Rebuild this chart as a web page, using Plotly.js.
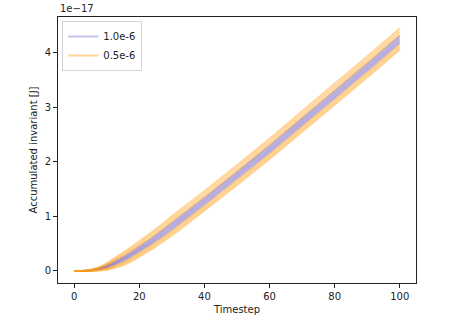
<!DOCTYPE html>
<html>
<head>
<meta charset="utf-8">
<script src="https://cdn.plot.ly/plotly-3.0.1.min.js"></script>
<style>
  html, body { margin: 0; padding: 0; background: #fff; }
  #plot { width: 462px; height: 321px; }
</style>
</head>
<body>
<div id="plot"></div>
<script>
// timesteps sampled along the curves; values in units of 1e-17 J
const timesteps = [0, 2, 4, 6, 8, 10, 13, 16, 20, 25, 30, 40, 50, 60, 70, 80, 90, 100];

// step 1.0e-6 runs
const run1a = [0, 0, 0.006, 0.026, 0.057, 0.101, 0.193, 0.292, 0.448, 0.654, 0.88, 1.34, 1.812, 2.293, 2.794, 3.295, 3.796, 4.306];
const run1b = [0, 0, 0.006, 0.023, 0.051, 0.091, 0.177, 0.271, 0.424, 0.627, 0.85, 1.31, 1.781, 2.262, 2.762, 3.263, 3.763, 4.273];
const run1c = [0, 0, 0.005, 0.020, 0.045, 0.080, 0.160, 0.250, 0.400, 0.600, 0.82, 1.28, 1.750, 2.230, 2.730, 3.230, 3.730, 4.240];
const run1d = [0, 0, 0.004, 0.017, 0.039, 0.070, 0.144, 0.229, 0.376, 0.573, 0.79, 1.25, 1.719, 2.199, 2.698, 3.197, 3.697, 4.207];
const run1e = [0, 0, 0.004, 0.014, 0.033, 0.059, 0.127, 0.208, 0.352, 0.546, 0.76, 1.22, 1.688, 2.167, 2.666, 3.165, 3.664, 4.174];

// step 0.5e-6 runs
const run05a = [0, 0, 0.009, 0.038, 0.081, 0.143, 0.259, 0.376, 0.544, 0.762, 1.00, 1.46, 1.935, 2.419, 2.923, 3.426, 3.928, 4.438];
const run05b = [0, 0, 0.008, 0.033, 0.071, 0.126, 0.232, 0.341, 0.504, 0.717, 0.95, 1.41, 1.884, 2.367, 2.869, 3.372, 3.873, 4.383];
const run05c = [0, 0, 0.007, 0.028, 0.061, 0.108, 0.204, 0.306, 0.464, 0.672, 0.90, 1.36, 1.832, 2.314, 2.816, 3.317, 3.818, 4.328];
const run05d = [0, 0, 0.003, 0.011, 0.027, 0.049, 0.111, 0.187, 0.328, 0.519, 0.73, 1.19, 1.657, 2.136, 2.634, 3.132, 3.631, 4.141];
const run05e = [0, 0, 0.002, 0.007, 0.019, 0.035, 0.089, 0.159, 0.296, 0.483, 0.69, 1.15, 1.616, 2.094, 2.591, 3.088, 3.587, 4.097];
const run05f = [0, 0, 0.002, 0.003, 0.011, 0.021, 0.067, 0.131, 0.264, 0.447, 0.65, 1.11, 1.575, 2.052, 2.548, 3.045, 3.543, 4.053];

const groups = [
  { name: "1.0e-6", color: "rgba(125,105,195,0.42)", runs: [run1a, run1b, run1c, run1d, run1e] },
  { name: "0.5e-6", color: "rgba(255,160,20,0.45)", runs: [run05a, run05b, run05c, run05d, run05e, run05f] },
];

const traces = [];
for (const g of groups) {
  g.runs.forEach((ys, i) => {
    traces.push({
      x: timesteps,
      y: ys,
      type: "scatter",
      mode: "lines",
      name: g.name,
      legendgroup: g.name,
      showlegend: i === 0,
      line: { color: g.color, width: 2, shape: "spline", smoothing: 0.6 },
      hoverinfo: "skip",
    });
  });
}

const axisCommon = {
  showline: true,
  mirror: true,
  linecolor: "#222",
  linewidth: 1,
  ticks: "outside",
  ticklen: 4,
  tickcolor: "#222",
  showgrid: false,
  zeroline: false,
  tickfont: { size: 10, color: "#222" },
};

const layout = {
  width: 462,
  height: 321,
  margin: { l: 58, r: 46, t: 17, b: 38 },
  paper_bgcolor: "#fff",
  plot_bgcolor: "#fff",
  font: { family: "DejaVu Sans, sans-serif", size: 10, color: "#222" },
  xaxis: Object.assign({}, axisCommon, {
    range: [-5, 105],
    tickvals: [0, 20, 40, 60, 80, 100],
    title: { text: "Timestep", font: { size: 10 }, standoff: 4 },
  }),
  yaxis: Object.assign({}, axisCommon, {
    range: [-0.22, 4.65],
    tickvals: [0, 1, 2, 3, 4],
    title: { text: "Accumulated invariant [J]", font: { size: 10 }, standoff: 5 },
  }),
  legend: {
    x: 0.012, y: 0.985, xanchor: "left", yanchor: "top",
    bgcolor: "rgba(255,255,255,0.8)",
    bordercolor: "#d6d6d6",
    borderwidth: 1,
    font: { size: 10 },
    itemwidth: 30,
    tracegroupgap: 0,
  },
  annotations: [
    {
      text: "1e\u221217",
      xref: "paper", yref: "paper",
      x: 0, y: 1, xanchor: "left", yanchor: "bottom",
      showarrow: false,
      yshift: 1,
      font: { size: 10, color: "#222" },
    },
  ],
  showlegend: true,
};

Plotly.newPlot("plot", traces, layout, { displayModeBar: false, staticPlot: true });
</script>
</body>
</html>
